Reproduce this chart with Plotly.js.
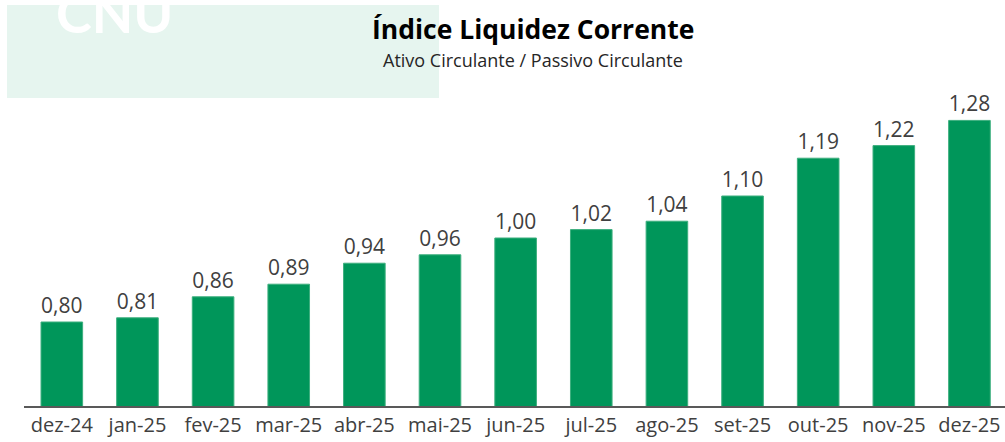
<!DOCTYPE html>
<html>
<head>
<meta charset="utf-8">
<script src="https://cdn.plot.ly/plotly-3.0.1.min.js"></script>
<style>html,body{margin:0;padding:0;background:#fff;}#chart{width:1005px;height:442px;}</style>
</head>
<body>
<div id="chart"></div>
<script>
const categories = ["dez-24","jan-25","fev-25","mar-25","abr-25","mai-25","jun-25","jul-25","ago-25","set-25","out-25","nov-25","dez-25"];
const values = [0.80,0.81,0.86,0.89,0.94,0.96,1.00,1.02,1.04,1.10,1.19,1.22,1.28];
const valueLabels = values.map(v => v.toFixed(2).replace('.', ','));
const chartTitle = "Índice Liquidez Corrente";
const chartSubtitle = "Ativo Circulante / Passivo Circulante";
const watermark = "CNU";

const trace = {
  type: 'bar',
  x: categories,
  y: values,
  text: valueLabels,
  textposition: 'outside',
  textfont: {family: '"Open Sans", sans-serif', size: 21, color: '#404040'},
  cliponaxis: false,
  marker: {color: '#00965A', line: {color: '#3DAF7E', width: 1}},
  hoverinfo: 'skip'
};

const layout = {
  width: 1005, height: 442,
  margin: {l: 24, r: 0, t: 100, b: 36},
  paper_bgcolor: '#ffffff', plot_bgcolor: 'rgba(0,0,0,0)',
  bargap: 0.45,
  showlegend: false,
  xaxis: {
    type: 'category',
    range: [-0.5, 12.47],
    showline: true, linecolor: '#595959', linewidth: 1.5,
    ticks: '', showgrid: false, zeroline: false,
    tickfont: {family: '"Open Sans", sans-serif', size: 20, color: '#404040'},
    fixedrange: true
  },
  yaxis: {
    range: [0.6, 1.3286],
    visible: false, showgrid: false, zeroline: false, fixedrange: true
  },
  shapes: [{
    type: 'rect', xref: 'paper', yref: 'paper', layer: 'below',
    x0: (7-24)/981, x1: (439-24)/981, y0: (406-98)/306, y1: (406-5)/306,
    fillcolor: '#E6F5EF', line: {width: 0}
  }],
  annotations: [
    {text: '<b>' + watermark + '</b>', xref: 'paper', yref: 'paper', x: (54-24)/981, xanchor: 'left',
     y: (406-13)/306, yanchor: 'middle', showarrow: false,
     font: {family: 'Lato, sans-serif', size: 54, color: '#ffffff'}},
    {text: '<b>' + chartTitle + '</b>', xref: 'paper', yref: 'paper', x: (533-24)/981, xanchor: 'center',
     y: (406-29)/306, yanchor: 'middle', showarrow: false,
     font: {family: '"Open Sans", sans-serif', size: 26.5, color: '#000000'}},
    {text: chartSubtitle, xref: 'paper', yref: 'paper', x: (533-24)/981, xanchor: 'center',
     y: (406-60)/306, yanchor: 'middle', showarrow: false,
     font: {family: '"Open Sans", sans-serif', size: 18, color: '#262626'}}
  ]
};

Plotly.newPlot('chart', [trace], layout, {displayModeBar: false, staticPlot: true});
</script>
</body>
</html>
